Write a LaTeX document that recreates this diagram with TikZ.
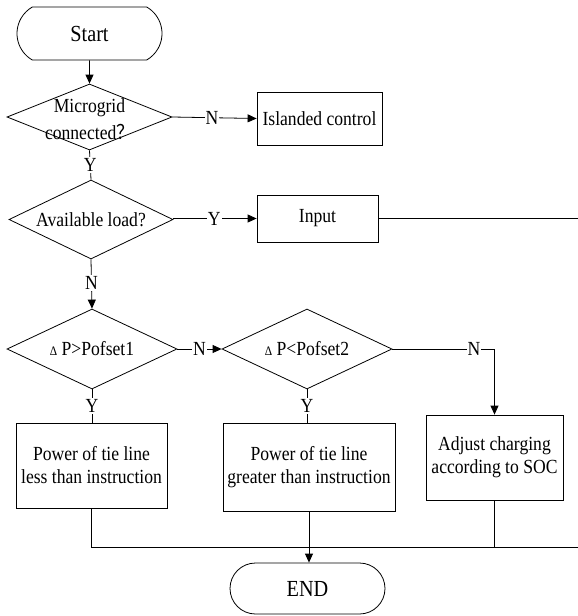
\documentclass[tikz,border=0pt]{standalone}
\usepackage{fontspec}
\setmainfont{Liberation Serif}[FakeStretch=0.88]
\newfontfamily\cjk{Noto Sans CJK SC}[FakeStretch=0.88]
\usetikzlibrary{shapes.geometric,shapes.misc,arrows.meta}
\begin{document}
\begin{tikzpicture}[x=1pt,y=-1pt,
  txt/.style={font=\fontsize{20}{23}\selectfont},
  box/.style={draw,rectangle,inner sep=0pt,align=center,txt},
  term/.style={draw,rounded rectangle,inner sep=0pt,font=\fontsize{23}{26}\selectfont},
  dia/.style={draw,diamond,inner sep=0pt},
  dtext/.style={align=center,inner sep=0pt,txt},
  lbl/.style={fill=white,inner sep=1pt,font=\fontsize{20}{24}\selectfont},
  conn/.style={line width=0.8pt},
  arr/.style={conn,-{Triangle[length=9pt,width=8pt]}},
  line width=0.8pt]
\useasboundingbox (0,0) rectangle (578,616);

% terminals
\node[term,rounded rectangle arc length=120,minimum width=145pt,minimum height=53pt] (start) at (89.5,33.5) {Start};
\node[term,minimum width=155pt,minimum height=51pt] (end) at (307.5,588.5) {END};

% decisions
\node[dia,minimum width=165pt,minimum height=66pt] (d1) at (89.5,117) {};
\node[dtext,font=\fontsize{20}{27}\selectfont] (d1t) at (89.5,119) {Microgrid\\connected{\cjk ？}};
\node[dia,minimum width=164pt,minimum height=79pt] (d2) at (91,219.5) {};
\node[dtext] (d2t) at (91,219.5) {Available load?};
\node[dia,minimum width=170pt,minimum height=80pt] (d3) at (92,349) {};
\node[dtext] (d3t) at (92,349) {{\fontsize{13}{13}\selectfont Δ} P>Pofset1};
\node[dia,minimum width=170pt,minimum height=80pt] (d4) at (307,349) {};
\node[dtext] (d4t) at (307,349) {{\fontsize{13}{13}\selectfont Δ} P<Pofset2};

% boxes
\node[box,minimum width=125pt,minimum height=53pt] (island) at (319.5,118.5) {Islanded control};
\node[box,minimum width=121pt,minimum height=47pt] (input) at (317.5,218.5) {Input};
\node[box,minimum width=151pt,minimum height=85pt] (b1) at (91.5,465.5) {Power of tie line\\less than instruction};
\node[box,minimum width=172pt,minimum height=88pt] (b2) at (309,467) {Power of tie line\\greater than instruction};
\node[box,minimum width=137pt,minimum height=85pt] (b3) at (494.5,457.5) {Adjust charging\\according to SOC};

\coordinate (inEnd) at (578,218.5);
\coordinate (b1c) at (b1.south |- 0,547);
\coordinate (b3c) at (b3.south |- 0,547);
\coordinate (busEnd) at (578,547);

% connectors
\draw[arr] (start) -- (d1);
\draw[arr] (d1.east) -- node[lbl,pos=0.47] {N} (island.west);
\draw[conn] (d1.south) -- node[lbl] {Y} (d2.north);
\draw[arr] (d2.east |- input.west) -- node[lbl,pos=0.49] {Y} (input.west);
\draw[conn] (input.east) -- (inEnd);
\draw[arr] (d2.south) -- node[lbl,pos=0.48] {N} (d3.north);
\draw[arr] (d3.east) -- node[lbl,pos=0.5] {N} (d4.west);
\draw[arr] (d4.east) -| node[lbl,pos=0.4] {N} (b3.north);
\draw[conn] (d3.south) -- node[lbl,pos=0.5] {Y} (d3.south |- b1.north);
\draw[conn] (d4.south) -- node[lbl,pos=0.5] {Y} (d4.south |- b2.north);
\draw[conn] (b1.south) -- (b1c) -- (busEnd);
\draw[conn] (b3.south) -- (b3c);
\draw[arr] (b2.south) -- (b2.south |- end.north);
\end{tikzpicture}
\end{document}
